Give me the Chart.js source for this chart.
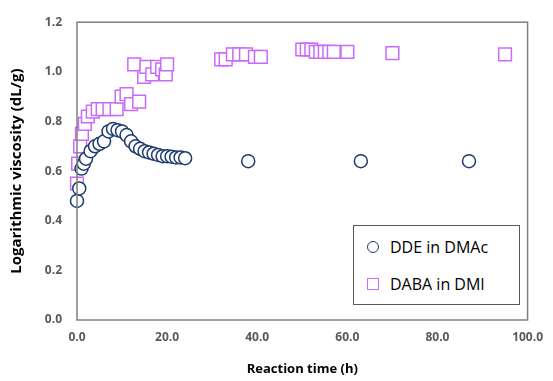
<!DOCTYPE html>
<html>
<head>
<meta charset="utf-8">
<script src="https://cdn.jsdelivr.net/npm/chart.js@4.4.1/dist/chart.umd.min.js"></script>
<style>
    body { margin: 0; background: #fff; }
    #wrap { position: relative; width: 553px; height: 381px; }
    #legend {
        position: absolute; left: 353px; top: 225px; width: 165px; height: 78px;
        border: 1.5px solid #595959; background: #fff;
        font-family: "Open Sans", sans-serif; font-size: 16px; color: #000;
    }
    .row { position: absolute; left: 0; height: 20px; line-height: 20px; white-space: nowrap; }
    .mk { position: absolute; left: 13px; top: 4px; width: 10px; height: 10px; box-sizing: content-box; }
    .lbl { position: absolute; left: 36px; top: 0; }
</style>
</head>
<body>
<div id="wrap">
    <canvas id="viscChart" width="553" height="381"></canvas>
    <div id="legend"></div>
</div>
<script>
// DDE in DMAc
var ddeTime = [0, 0.5, 1, 1.5, 2, 3, 4, 5, 6, 7, 8, 9, 10, 11, 12, 13, 14, 15, 16, 17, 18, 19, 20, 21, 22, 23, 24, 38, 63, 87];
var ddeVisc = [0.48, 0.53, 0.61, 0.63, 0.65, 0.68, 0.70, 0.71, 0.72, 0.76, 0.77, 0.765, 0.76, 0.745, 0.72, 0.70, 0.69, 0.68, 0.675, 0.67, 0.665, 0.66, 0.66, 0.658, 0.655, 0.655, 0.652, 0.64, 0.64, 0.64];

// DABA in DMI
var dabaTime = [0, 0.25, 0.7, 1.1, 1.75, 2.4, 3.5, 4.6, 5.7, 7.2, 8.8, 9.9, 11, 12, 12.7, 13.8, 14.9, 15.4, 16.7, 17.8, 18.9, 19.7, 20, 32, 33, 34.6, 36, 37.5, 39.5, 40.8, 50, 51, 52, 53, 54, 55, 56, 57, 60, 70, 95];
var dabaVisc = [0.55, 0.63, 0.70, 0.75, 0.79, 0.82, 0.84, 0.85, 0.85, 0.85, 0.85, 0.90, 0.91, 0.87, 1.03, 0.88, 0.98, 1.02, 0.99, 1.02, 1.01, 0.99, 1.03, 1.05, 1.05, 1.07, 1.07, 1.07, 1.06, 1.06, 1.09, 1.09, 1.09, 1.08, 1.08, 1.08, 1.08, 1.08, 1.08, 1.075, 1.07];

var seriesNames = ["DDE in DMAc", "DABA in DMI"];
var xTicks = [0, 20, 40, 60, 80, 100];
var yTicks = [0, 0.2, 0.4, 0.6, 0.8, 1.0, 1.2];

var navy = "#1f3b6e";
var violet = "#c86bfa";

function pairs(xs, ys) {
    return xs.map(function (x, i) { return { x: x, y: ys[i] }; });
}

// box around the plot area
var frame = {
    id: "frame",
    afterDatasetsDraw: function (chart) {
        var a = chart.chartArea, ctx = chart.ctx;
        ctx.save();
        ctx.strokeStyle = "#7f7f7f";
        ctx.lineWidth = 1.5;
        ctx.strokeRect(a.left, a.top, a.right - a.left, a.bottom - a.top);
        ctx.restore();
    }
};

var tickFont = { family: "'Open Sans', sans-serif", size: 12, weight: "bold" };

var ctx = document.getElementById("viscChart").getContext("2d");
var viscChart = new Chart(ctx, {
    type: "scatter",
    data: {
        datasets: [
            {
                label: seriesNames[0],
                data: pairs(ddeTime, ddeVisc),
                pointStyle: "circle",
                pointRadius: 6.5,
                pointHoverRadius: 6.5,
                borderColor: navy,
                backgroundColor: "#fff",
                borderWidth: 1.5,
                clip: false
            },
            {
                label: seriesNames[1],
                data: pairs(dabaTime, dabaVisc),
                pointStyle: "rect",
                pointRadius: 9,
                pointHoverRadius: 9,
                borderColor: violet,
                backgroundColor: "#fff",
                borderWidth: 1.5,
                clip: false
            }
        ]
    },
    options: {
        responsive: false,
        animation: false,
        layout: { padding: { left: 0, top: 20, right: 20, bottom: 0 } },
        plugins: { legend: { display: false }, tooltip: { enabled: false } },
        scales: {
            x: {
                type: "linear",
                min: 0,
                max: 100,
                afterBuildTicks: function (s) { s.ticks = xTicks.map(function (v) { return { value: v }; }); },
                afterFit: function (s) { s.height = 61; },
                grid: { display: false, drawTicks: false },
                border: { display: false },
                ticks: { padding: 10, color: "#595959", font: tickFont, callback: function (v) { return v.toFixed(1); } },
                title: {
                    display: true,
                    text: "Reaction time (h)",
                    color: "#000",
                    padding: { top: 0, bottom: 4 },
                    font: { family: "'Open Sans', sans-serif", size: 13, weight: "bold" }
                }
            },
            y: {
                min: 0,
                max: 1.2,
                afterBuildTicks: function (s) { s.ticks = yTicks.map(function (v) { return { value: v }; }); },
                afterFit: function (s) { s.width = 77; },
                grid: { display: false, drawTicks: false },
                border: { display: false },
                ticks: { padding: 15, color: "#595959", font: tickFont, callback: function (v) { return v.toFixed(1); } },
                title: {
                    display: true,
                    text: "Logarithmic viscosity (dL/g)",
                    color: "#000",
                    padding: { top: 8, bottom: 0 },
                    font: { family: "'Open Sans', sans-serif", size: 15, weight: "bold" }
                }
            }
        }
    },
    plugins: [frame]
});

// legend inside the plot, as in the figure
var legend = document.getElementById("legend");
seriesNames.forEach(function (name, i) {
    var row = document.createElement("div");
    row.className = "row";
    row.style.top = (i === 0 ? 11 : 48) + "px";
    var mk = document.createElement("div");
    mk.className = "mk";
    mk.style.border = "1.5px solid " + (i === 0 ? navy : violet);
    if (i === 0) mk.style.borderRadius = "50%";
    var lbl = document.createElement("span");
    lbl.className = "lbl";
    lbl.textContent = name;
    row.appendChild(mk);
    row.appendChild(lbl);
    legend.appendChild(row);
});
</script>
</body>
</html>
